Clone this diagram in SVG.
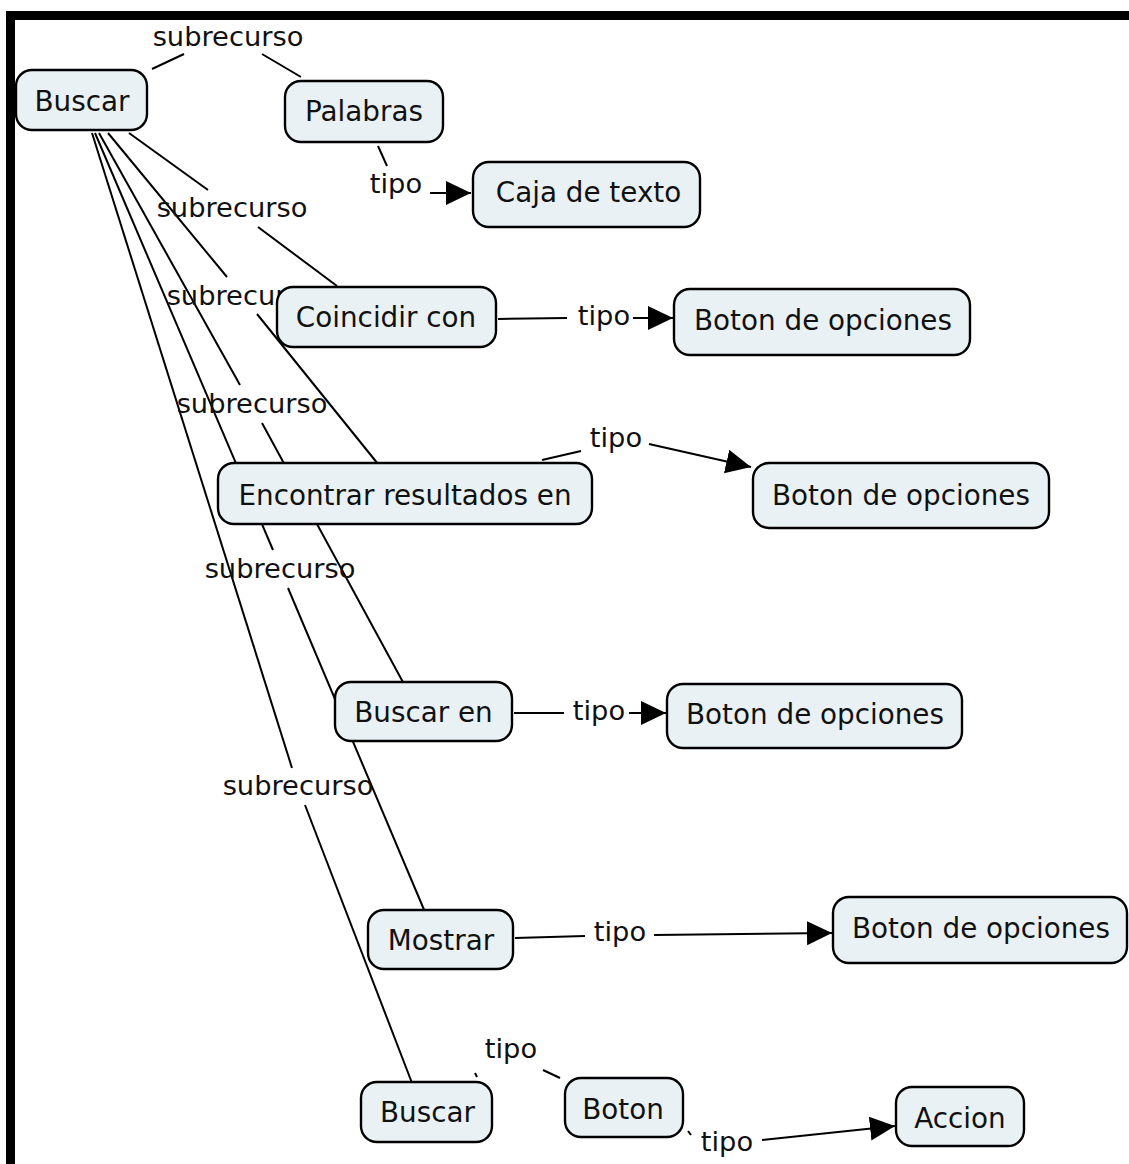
<svg xmlns="http://www.w3.org/2000/svg" width="1129" height="1164" viewBox="0 0 1129 1164">
  <style>
    .node rect { fill: #e9f1f4; stroke: #000; stroke-width: 2.4; }
    .node text { font-family: "DejaVu Sans", Verdana, sans-serif; font-size: 27.8px; fill: #111; text-anchor: middle; }
    .link line { stroke: #000; stroke-width: 2; fill: none; }
    .lbl { font-family: "DejaVu Sans", Verdana, sans-serif; font-size: 27.3px; fill: #111; text-anchor: middle; }
    .arr { marker-end: url(#head); }
  </style>
  <defs>
    <marker id="head" markerUnits="userSpaceOnUse" markerWidth="26" markerHeight="26" refX="25" refY="12" orient="auto">
      <path d="M0,0 L25,12 L0,24 Z" fill="#000"/>
    </marker>
  </defs>

  <rect width="1129" height="1164" fill="#fff"/>
  <!-- frame -->
  <rect x="6" y="11" width="1123" height="9" fill="#000"/>
  <rect x="6" y="11" width="9" height="1153" fill="#000"/>

  <g id="connectors" class="link">
    <!-- Buscar -> subrecurso -> sub-resources -->
    <line x1="152" y1="69" x2="184" y2="54"/>
    <line x1="262" y1="54" x2="301" y2="77"/>
    <line x1="129" y1="133" x2="208" y2="190"/>
    <line x1="258" y1="227" x2="337" y2="286"/>
    <line x1="108" y1="133" x2="227" y2="277"/>
    <line x1="257" y1="314" x2="378" y2="464"/>
    <line x1="99" y1="133" x2="240" y2="385"/>
    <line x1="262" y1="423" x2="404" y2="684"/>
    <line x1="95" y1="133" x2="273" y2="550"/>
    <line x1="288" y1="588" x2="425" y2="912"/>
    <line x1="92" y1="133" x2="292" y2="768"/>
    <line x1="305" y1="805" x2="412" y2="1083"/>

    <!-- tipo links -->
    <line x1="378" y1="146" x2="387" y2="166"/>
    <line class="arr" x1="430" y1="193" x2="471" y2="193"/>
    <line x1="498" y1="319" x2="567" y2="318"/>
    <line class="arr" x1="633" y1="318" x2="673" y2="318"/>
    <line x1="542" y1="460" x2="581" y2="451"/>
    <line class="arr" x1="649" y1="444" x2="751" y2="467"/>
    <line x1="514" y1="713" x2="564" y2="713"/>
    <line class="arr" x1="629" y1="713" x2="666" y2="713"/>
    <line x1="515" y1="938" x2="585" y2="936"/>
    <line class="arr" x1="654" y1="935" x2="832" y2="933"/>
    <line x1="475" y1="1073" x2="477" y2="1077"/>
    <line x1="543" y1="1070" x2="560" y2="1078"/>
    <line x1="688" y1="1131" x2="691" y2="1135"/>
    <line class="arr" x1="762" y1="1140" x2="895" y2="1126"/>

    <!-- linking phrases -->
    <text class="lbl" x="228" y="46">subrecurso</text>
    <text class="lbl" x="232" y="217">subrecurso</text>
    <text class="lbl" x="242" y="305">subrecurso</text>
    <text class="lbl" x="252" y="413">subrecurso</text>
    <text class="lbl" x="280" y="578">subrecurso</text>
    <text class="lbl" x="298" y="795">subrecurso</text>
    <text class="lbl" x="396" y="193">tipo</text>
    <text class="lbl" x="604" y="325">tipo</text>
    <text class="lbl" x="616" y="447">tipo</text>
    <text class="lbl" x="599" y="720">tipo</text>
    <text class="lbl" x="620" y="941">tipo</text>
    <text class="lbl" x="511" y="1058">tipo</text>
    <text class="lbl" x="727" y="1151">tipo</text>
  </g>

  <g id="n-buscar" class="node">
    <rect x="16" y="70" width="131" height="60" rx="16"/>
    <text x="82" y="111">Buscar</text>
  </g>
  <g id="n-palabras" class="node">
    <rect x="285" y="81" width="158" height="61" rx="16"/>
    <text x="364" y="121">Palabras</text>
  </g>
  <g id="n-caja" class="node">
    <rect x="473" y="162" width="227" height="65" rx="16"/>
    <text x="588.5" y="202">Caja de texto</text>
  </g>
  <g id="n-coincidir" class="node">
    <rect x="277" y="287" width="219" height="60" rx="16"/>
    <text x="386" y="327">Coincidir con</text>
  </g>
  <g id="n-opciones1" class="node">
    <rect x="674" y="289" width="296" height="66" rx="16"/>
    <text x="823" y="330">Boton de opciones</text>
  </g>
  <g id="n-encontrar" class="node">
    <rect x="218" y="463" width="374" height="61" rx="16"/>
    <text x="405" y="505">Encontrar resultados en</text>
  </g>
  <g id="n-opciones2" class="node">
    <rect x="753" y="463" width="296" height="65" rx="16"/>
    <text x="901" y="505">Boton de opciones</text>
  </g>
  <g id="n-buscaren" class="node">
    <rect x="335" y="682" width="177" height="59" rx="16"/>
    <text x="423.5" y="722">Buscar en</text>
  </g>
  <g id="n-opciones3" class="node">
    <rect x="667" y="684" width="295" height="64" rx="16"/>
    <text x="815" y="724">Boton de opciones</text>
  </g>
  <g id="n-mostrar" class="node">
    <rect x="368" y="910" width="145" height="59" rx="16"/>
    <text x="441" y="950">Mostrar</text>
  </g>
  <g id="n-opciones4" class="node">
    <rect x="833" y="897" width="294" height="66" rx="16"/>
    <text x="981" y="938">Boton de opciones</text>
  </g>
  <g id="n-buscar2" class="node">
    <rect x="361" y="1082" width="131" height="60" rx="16"/>
    <text x="427.5" y="1122">Buscar</text>
  </g>
  <g id="n-boton" class="node">
    <rect x="565" y="1078" width="118" height="59" rx="16"/>
    <text x="623" y="1119">Boton</text>
  </g>
  <g id="n-accion" class="node">
    <rect x="896" y="1087" width="128" height="59" rx="16"/>
    <text x="960" y="1128">Accion</text>
  </g>
</svg>
